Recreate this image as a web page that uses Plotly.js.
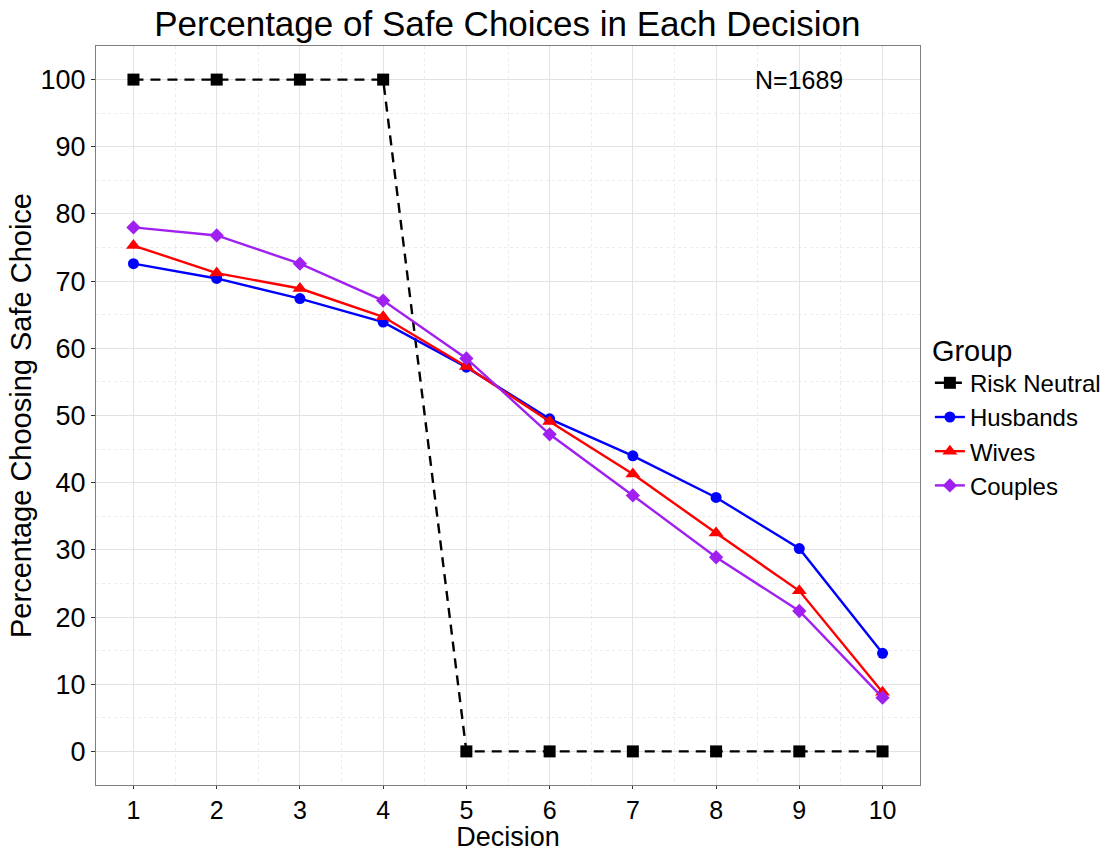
<!DOCTYPE html>
<html><head><meta charset="utf-8">
<script src="https://cdn.plot.ly/plotly-3.0.1.min.js"></script>
<style>body{margin:0;background:#fff}#c{width:1120px;height:852px}</style>
</head><body><div id="c"></div>
<script>
const decisions = [1,2,3,4,5,6,7,8,9,10];
const riskNeutral = [100,100,100,100,0,0,0,0,0,0];
const husbands = [72.6,70.4,67.4,63.9,57.2,49.5,44.0,37.8,30.2,14.6];
const wives = [75.3,71.2,68.9,64.7,57.3,49.1,41.3,32.5,23.9,8.8];
const couples = [78.0,76.8,72.6,67.1,58.5,47.2,38.1,28.9,20.9,8.0];
const yTicks = [0,10,20,30,40,50,60,70,80,90,100];
const F = 'Liberation Sans, Arial, sans-serif';

const traces = [
  {x:decisions,y:riskNeutral,name:'Risk Neutral',mode:'lines+markers',line:{color:'#000',width:2.4,dash:'10px,7px'},marker:{symbol:'square',size:12,color:'#000'}},
  {x:decisions,y:husbands,name:'Husbands',mode:'lines+markers',line:{color:'#0000ff',width:2.4},marker:{symbol:'circle',size:11,color:'#0000ff'}},
  {x:decisions,y:wives,name:'Wives',mode:'lines+markers',line:{color:'#ff0000',width:2.4},marker:{symbol:'triangle-up',size:13,color:'#ff0000'}},
  {x:decisions,y:couples,name:'Couples',mode:'lines+markers',line:{color:'#a020f0',width:2.4},marker:{symbol:'diamond',size:11,color:'#a020f0'}}
];
const layout = {
  width:1120,height:852,
  margin:{l:96,r:200,t:46,b:67},
  paper_bgcolor:'#fff',plot_bgcolor:'#fff',
  font:{family:F,color:'#000'},
  title:{text:'Percentage of Safe Choices in Each Decision',font:{size:35,color:'#000'},x:0.453,xanchor:'center',y:0.972,yanchor:'middle'},
  xaxis:{range:[0.55,10.45],tickvals:decisions,ticktext:decisions.map(String),tickfont:{size:25},
    title:{text:'Decision',font:{size:27},standoff:4},
    showgrid:true,gridcolor:'#e3e3e3',gridwidth:1.3,
    minor:{dtick:0.5,tick0:0.5,showgrid:true,gridcolor:'#ececec',gridwidth:1,griddash:'dot'},
    ticks:'outside',ticklen:3,tickcolor:'#333',tickwidth:1,
    showline:true,linecolor:'#7f7f7f',linewidth:1,mirror:true,zeroline:false},
  yaxis:{range:[-5,105],tickvals:yTicks,ticktext:yTicks.map(String),tickfont:{size:27},
    title:{text:'Percentage Choosing Safe Choice',font:{size:29},standoff:0},
    showgrid:true,gridcolor:'#e3e3e3',gridwidth:1.3,
    minor:{dtick:5,tick0:5,showgrid:true,gridcolor:'#ececec',gridwidth:1,griddash:'dot'},
    ticks:'outside',ticklen:4,tickcolor:'#333',tickwidth:1,
    showline:true,linecolor:'#7f7f7f',linewidth:1,mirror:true,zeroline:false},
  legend:{x:1.012,xanchor:'left',y:0.5,yanchor:'middle',font:{size:24},
    title:{text:'Group',font:{size:29}},tracegroupgap:0,itemwidth:30,bgcolor:'rgba(0,0,0,0)'},
  annotations:[{x:9,y:100,xref:'x',yref:'y',text:'N=1689',showarrow:false,font:{size:25,color:'#000'},xanchor:'center',yanchor:'middle'}]
};
Plotly.newPlot('c',traces,layout,{displayModeBar:false});
</script></body></html>
